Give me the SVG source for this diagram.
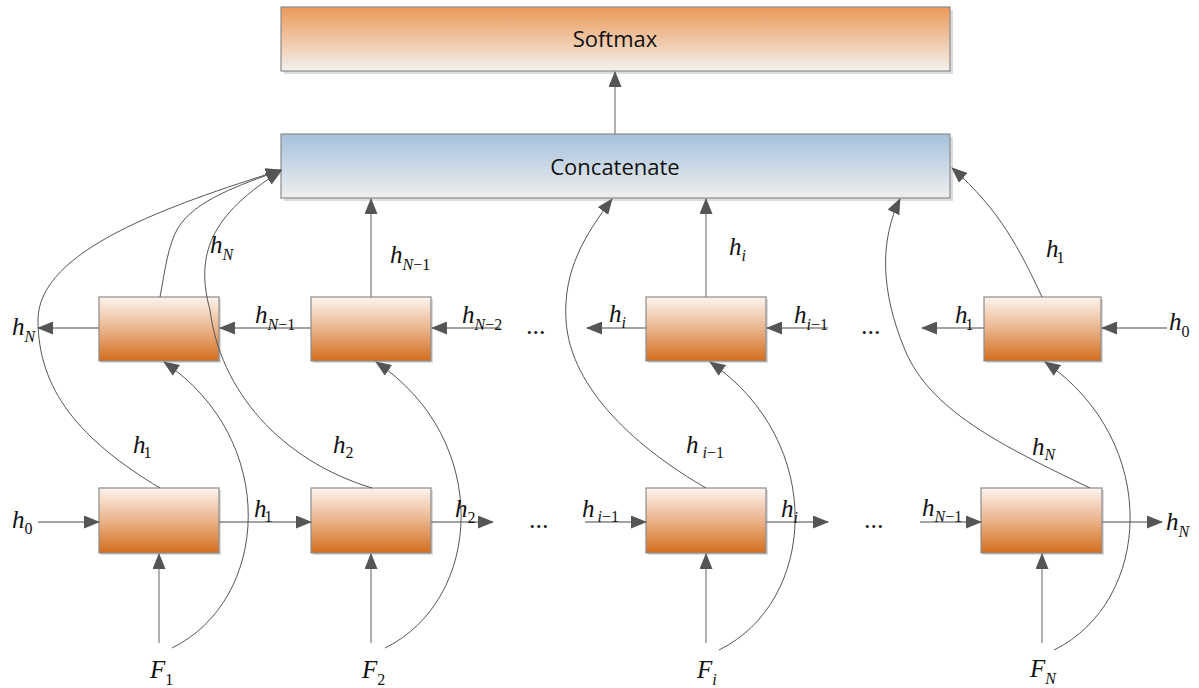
<svg xmlns="http://www.w3.org/2000/svg" width="1199" height="688" viewBox="0 0 1199 688">
<defs>
<linearGradient id="gBox" x1="0" y1="0" x2="0" y2="1">
<stop offset="0" stop-color="#fdf4ee"/><stop offset="0.5" stop-color="#eab48a"/><stop offset="1" stop-color="#d36e1e"/>
</linearGradient>
<linearGradient id="gSoft" x1="0" y1="0" x2="0" y2="1">
<stop offset="0" stop-color="#eb9958"/><stop offset="1" stop-color="#f3f1ef"/>
</linearGradient>
<linearGradient id="gCat" x1="0" y1="0" x2="0" y2="1">
<stop offset="0" stop-color="#a6c1dc"/><stop offset="1" stop-color="#efefef"/>
</linearGradient>
<marker id="ah" markerUnits="userSpaceOnUse" markerWidth="16" markerHeight="13" refX="15" refY="6.5" orient="auto">
<path d="M0,0 L16,6.5 L0,13 z" fill="#555"/>
</marker>
<style>
.box{stroke:#8c8c8c;stroke-width:1.2;fill:url(#gBox)}
.shd{fill:#dcdcdc}
.ln{stroke:#858585;stroke-width:1.3;fill:none;marker-end:url(#ah)}
.cva{stroke:#555;stroke-width:1;fill:none;marker-end:url(#ah)}
.t{font-family:"Open Sans",sans-serif;font-size:22px;fill:#111;text-anchor:middle}
.m{font-family:"Liberation Serif",serif;font-style:italic;font-size:25px;fill:#111}
.si{font-style:italic;font-size:16px}
.sd{font-style:normal;font-size:16px}
.dots{font-family:"Liberation Serif",serif;font-size:26px;fill:#111}
</style>
</defs>
<rect width="1199" height="688" fill="#fff"/>

<g id="softmax">
<rect class="shd" x="284" y="10" width="669" height="64"/>
<rect x="281" y="7" width="669" height="64" fill="url(#gSoft)" stroke="#8c8c8c" stroke-width="1.2"/>
<text class="t" x="615" y="47">Softmax</text>
</g>
<g id="concatenate">
<rect class="shd" x="284" y="137" width="669" height="64"/>
<rect x="281" y="134" width="669" height="64" fill="url(#gCat)" stroke="#8c8c8c" stroke-width="1.2"/>
<text class="t" x="615" y="175">Concatenate</text>
</g>

<g id="bwd1"><rect class="shd" x="101" y="299" width="120" height="64"/><rect class="box" x="99" y="297" width="120" height="64"/></g>
<g id="bwd2"><rect class="shd" x="313" y="299" width="120" height="64"/><rect class="box" x="311" y="297" width="120" height="64"/></g>
<g id="bwd3"><rect class="shd" x="648" y="299" width="120" height="64"/><rect class="box" x="646" y="297" width="120" height="64"/></g>
<g id="bwd4"><rect class="shd" x="986" y="299" width="117" height="64"/><rect class="box" x="984" y="297" width="117" height="64"/></g>

<g id="fwd1"><rect class="shd" x="101" y="490" width="120" height="65"/><rect class="box" x="99" y="488" width="120" height="65"/></g>
<g id="fwd2"><rect class="shd" x="313" y="490" width="120" height="65"/><rect class="box" x="311" y="488" width="120" height="65"/></g>
<g id="fwd3"><rect class="shd" x="648" y="490" width="120" height="65"/><rect class="box" x="646" y="488" width="120" height="65"/></g>
<g id="fwd4"><rect class="shd" x="983" y="490" width="121" height="65"/><rect class="box" x="981" y="488" width="121" height="65"/></g>

<g id="connectors">
<line class="ln" x1="615" y1="134" x2="615" y2="72"/>
<!-- backward row -->
<line class="ln" x1="99" y1="328" x2="38" y2="328"/>
<line class="ln" x1="311" y1="328" x2="220" y2="328"/>
<line class="ln" x1="500" y1="328" x2="432" y2="328"/>
<line class="ln" x1="646" y1="328" x2="587" y2="328"/>
<line class="ln" x1="828" y1="328" x2="767" y2="328"/>
<line class="ln" x1="984" y1="328" x2="922" y2="328"/>
<line class="ln" x1="1167" y1="328" x2="1102" y2="328"/>
<line class="ln" x1="371" y1="297" x2="371" y2="199"/>
<line class="ln" x1="706" y1="297" x2="706" y2="199"/>
<!-- forward row -->
<line class="ln" x1="38" y1="522" x2="99" y2="522"/>
<line class="ln" x1="219" y1="522" x2="311" y2="522"/>
<line class="ln" x1="431" y1="522" x2="493" y2="522"/>
<line class="ln" x1="585" y1="522" x2="646" y2="522"/>
<line class="ln" x1="766" y1="522" x2="828" y2="522"/>
<line class="ln" x1="920" y1="522" x2="981" y2="522"/>
<line class="ln" x1="1102" y1="522" x2="1162" y2="522"/>
<!-- inputs -->
<line class="ln" x1="159" y1="643" x2="159" y2="554"/>
<line class="ln" x1="371" y1="643" x2="371" y2="554"/>
<line class="ln" x1="706" y1="643" x2="706" y2="554"/>
<line class="ln" x1="1042" y1="643" x2="1042" y2="554"/>
<!-- inputs to backward row -->
<path class="cva" d="M172,648 C270,600 280,440 164,362"/>
<path class="cva" d="M385,648 C483,600 493,440 376,362"/>
<path class="cva" d="M719,650 C817,602 827,442 710,362"/>
<path class="cva" d="M1054,650 C1152,602 1162,442 1045,362"/>
<!-- to concatenate -->
<path class="cva" d="M160,488 C80,440 38,390 38,320 C38,250 170,205 281,170"/>
<path class="cva" d="M160,297 C165,270 168,245 178,228 C195,200 240,185 281,170"/>
<path class="cva" d="M372,488 C280,460 220,390 210,310 C195,255 210,215 281,171"/>
<path class="cva" d="M706,488 C640,450 570,390 566,320 C563,270 585,235 612,199"/>
<path class="cva" d="M1090,488 C1000,445 930,410 905,350 C880,290 880,240 900,199"/>
<path class="cva" d="M1042,297 C1020,250 1000,210 952,168"/>
</g>

<g id="labels">
<!-- backward row -->
<text class="m" x="12" y="335">h<tspan class="si" dy="7">N</tspan></text>
<text class="m" x="255" y="323">h<tspan class="si" dy="7">N</tspan><tspan class="sd">−1</tspan></text>
<text class="m" x="462" y="323">h<tspan class="si" dy="7">N</tspan><tspan class="sd">−2</tspan></text>
<text class="m" x="390" y="263">h<tspan class="si" dy="7">N</tspan><tspan class="sd">−1</tspan></text>
<text class="m" x="210" y="253">h<tspan class="si" dy="7">N</tspan></text>
<text class="m" x="609" y="322">h<tspan class="si" dy="6">i</tspan></text>
<text class="m" x="729" y="255">h<tspan class="si" dy="6">i</tspan></text>
<text class="m" x="794" y="323">h<tspan class="si" dy="7">i</tspan><tspan class="sd">−1</tspan></text>
<text class="m" x="955" y="323">h<tspan class="sd" dx="-2" dy="7">1</tspan></text>
<text class="m" x="1169" y="330">h<tspan class="sd" dy="7">0</tspan></text>
<text class="m" x="1046" y="257">h<tspan class="sd" dx="-2" dy="6">1</tspan></text>
<text class="dots" x="526" y="334">...</text>
<text class="dots" x="861" y="334">...</text>
<!-- forward row -->
<text class="m" x="133" y="453">h<tspan class="sd" dx="-2" dy="5">1</tspan></text>
<text class="m" x="333" y="453">h<tspan class="sd" dy="5">2</tspan></text>
<text class="m" x="686" y="453">h<tspan class="si" dx="4" dy="5">i</tspan><tspan class="sd">−1</tspan></text>
<text class="m" x="1032" y="455">h<tspan class="si" dy="5">N</tspan></text>
<text class="m" x="12" y="528">h<tspan class="sd" dy="6">0</tspan></text>
<text class="m" x="254" y="517">h<tspan class="sd" dx="-2" dy="5">1</tspan></text>
<text class="m" x="455" y="517">h<tspan class="sd" dy="6">2</tspan></text>
<text class="m" x="582" y="517">h<tspan class="si" dx="3" dy="5">i</tspan><tspan class="sd">−1</tspan></text>
<text class="m" x="781" y="517">h<tspan class="si" dy="6">i</tspan></text>
<text class="m" x="922" y="516">h<tspan class="si" dy="6">N</tspan><tspan class="sd">−1</tspan></text>
<text class="m" x="1166" y="530">h<tspan class="si" dy="7">N</tspan></text>
<text class="dots" x="529" y="528">...</text>
<text class="dots" x="864" y="528">...</text>
<!-- inputs -->
<text class="m" x="150" y="678">F<tspan class="sd" dy="7">1</tspan></text>
<text class="m" x="362" y="678">F<tspan class="sd" dy="7">2</tspan></text>
<text class="m" x="697" y="678">F<tspan class="si" dy="7">i</tspan></text>
<text class="m" x="1030" y="677">F<tspan class="si" dy="7">N</tspan></text>
</g>
</svg>
